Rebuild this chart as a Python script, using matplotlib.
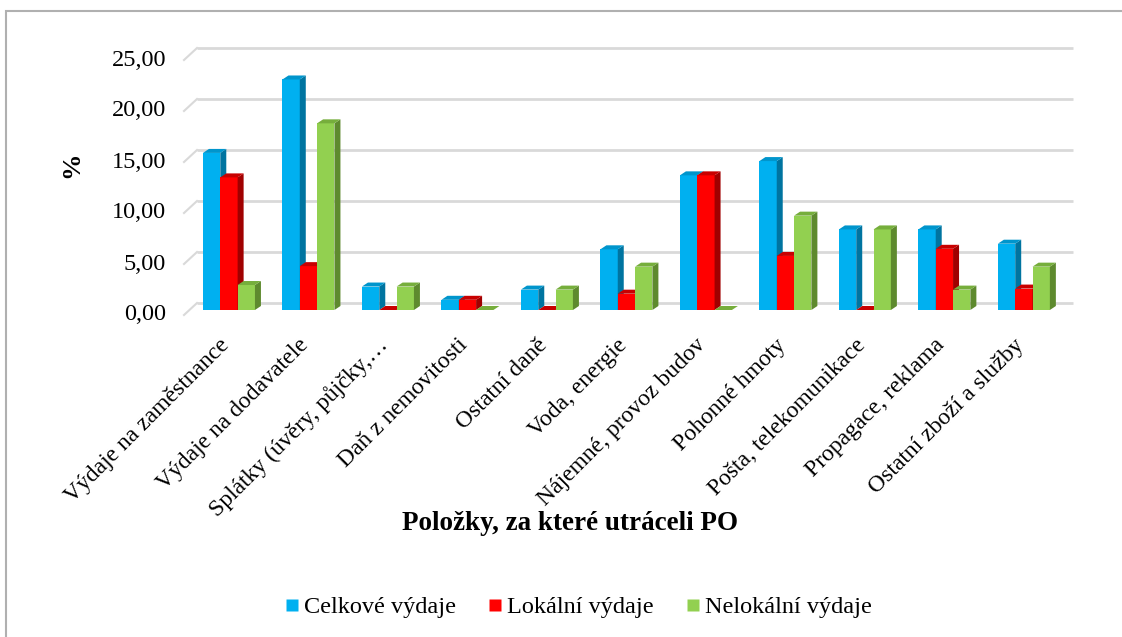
import matplotlib
matplotlib.use("Agg")
import matplotlib.pyplot as plt
import numpy as np
from matplotlib.patches import Polygon, Rectangle
from matplotlib.lines import Line2D

categories = ["Výdaje na zaměstnance", "Výdaje na dodavatele", "Splátky (úvěry, půjčky,…",
              "Daň z nemovitosti", "Ostatní daně", "Voda, energie", "Nájemné, provoz budov",
              "Pohonné hmoty", "Pošta, telekomunikace", "Propagace, reklama",
              "Ostatní zboží a služby"]
celkove = [15.4, 22.6, 2.3, 1.0, 2.0, 5.95, 13.2, 14.6, 7.9, 7.9, 6.5]
lokalni = [13.0, 4.3, 0.0, 1.0, 0.0, 1.6, 13.2, 5.3, 0.0, 6.0, 2.1]
nelokalni = [2.45, 18.3, 2.3, 0.0, 2.0, 4.25, 0.0, 9.25, 7.9, 2.0, 4.25]
series_names = ["Celkové výdaje", "Lokální výdaje", "Nelokální výdaje"]
yticks = [0, 5, 10, 15, 20, 25]

front_cols = ["#00B0F0", "#FF0000", "#92D050"]
side_cols = ["#0074A0", "#A00000", "#5E8A2E"]
top_cols = ["#0095CC", "#C80000", "#76AE3C"]

plt.rcParams['font.family'] = ['Liberation Serif', 'DejaVu Serif']

W, H = 1122, 637
fig = plt.figure(figsize=(W / 100, H / 100), dpi=100)
fig.patch.set_facecolor("white")

# outer border
fig.add_artist(Rectangle((6 / W, -0.1), 1.2, (H - 11) / H + 0.1, transform=fig.transFigure,
                         fill=False, edgecolor="#b0b0b0", lw=1.5))

left_px, right_px = 190, 1066
base_px, top_px = 310, 40
ax = fig.add_axes([left_px / W, (H - base_px) / H, (right_px - left_px) / W, (base_px - top_px) / H])
ax.set_xlim(-0.49, 10.53)
ax.set_ylim(0, (base_px - top_px) / 10.2)
ax.axis("off")

# pixel -> data sizes
xpp = (ax.get_xlim()[1] - ax.get_xlim()[0]) / (right_px - left_px)
ypp = (ax.get_ylim()[1] - ax.get_ylim()[0]) / (base_px - top_px)

# gridlines on back wall and left wall diagonals
back_dx, back_dy = 7, 7
front_dx, front_dy = -6, -5
x0 = ax.get_xlim()[0]
x1 = ax.get_xlim()[1]
for v in yticks:
    ax.plot([x0 + back_dx * xpp, x1 + back_dx * xpp], [v + back_dy * ypp] * 2,
            color="#d9d9d9", lw=2.0, zorder=0, solid_capstyle="butt", clip_on=False)
    ax.plot([x0 + front_dx * xpp, x0 + back_dx * xpp], [v + front_dy * ypp, v + back_dy * ypp],
            color="#d9d9d9", lw=1.5, zorder=0, clip_on=False)
    ax.text(x0 + (front_dx - 18) * xpp, v + front_dy * ypp, f"{v:.2f}".replace(".", ","),
            ha="right", va="center", fontsize=17.5, color="black")

# bars with pseudo-3D faces
bw = 0.218
ddx, ddy = 6 * xpp, 4 * ypp
x = np.arange(len(categories))
data = [celkove, lokalni, nelokalni]
for s, vals in enumerate(data):
    pos = x + (s - 1) * bw
    ax.bar(pos, vals, width=bw, color=front_cols[s], edgecolor="none", zorder=3 + s * 3)
    for p, v in zip(pos, vals):
        xr = p + bw / 2
        xl = p - bw / 2
        side = Polygon([(xr, 0), (xr + ddx, ddy), (xr + ddx, v + ddy), (xr, v)],
                       closed=True, facecolor=side_cols[s], edgecolor="none", zorder=4 + s * 3)
        top = Polygon([(xl, v), (xr, v), (xr + ddx, v + ddy), (xl + ddx, v + ddy)],
                      closed=True, facecolor=top_cols[s], edgecolor="none", zorder=4 + s * 3)
        ax.add_patch(side)
        ax.add_patch(top)

# category labels
for i, c in enumerate(categories):
    ax.text(i - 3 * xpp, -32 * ypp, c, rotation=45, rotation_mode="anchor", ha="right", va="center",
            fontsize=17, color="black")

fig.text(570 / W, 1 - 523 / H, "Položky, za které utráceli PO", ha="center", va="center",
         fontsize=19.5, fontweight="bold")
fig.text(72 / W, 1 - 165 / H, "%", ha="center", va="center", rotation=90,
         fontsize=19, fontweight="bold")

handles = [Line2D([0], [0], marker="s", linestyle="none", markersize=9,
                  markerfacecolor=front_cols[i], markeredgecolor="none") for i in range(3)]
fig.legend(handles, series_names, loc="center", bbox_to_anchor=(576 / W, 1 - 607 / H),
           ncol=3, frameon=False, fontsize=17.5, handletextpad=0.0, columnspacing=1.1,
           handlelength=1.0)

fig.savefig("out.png", dpi=100, facecolor="white")
